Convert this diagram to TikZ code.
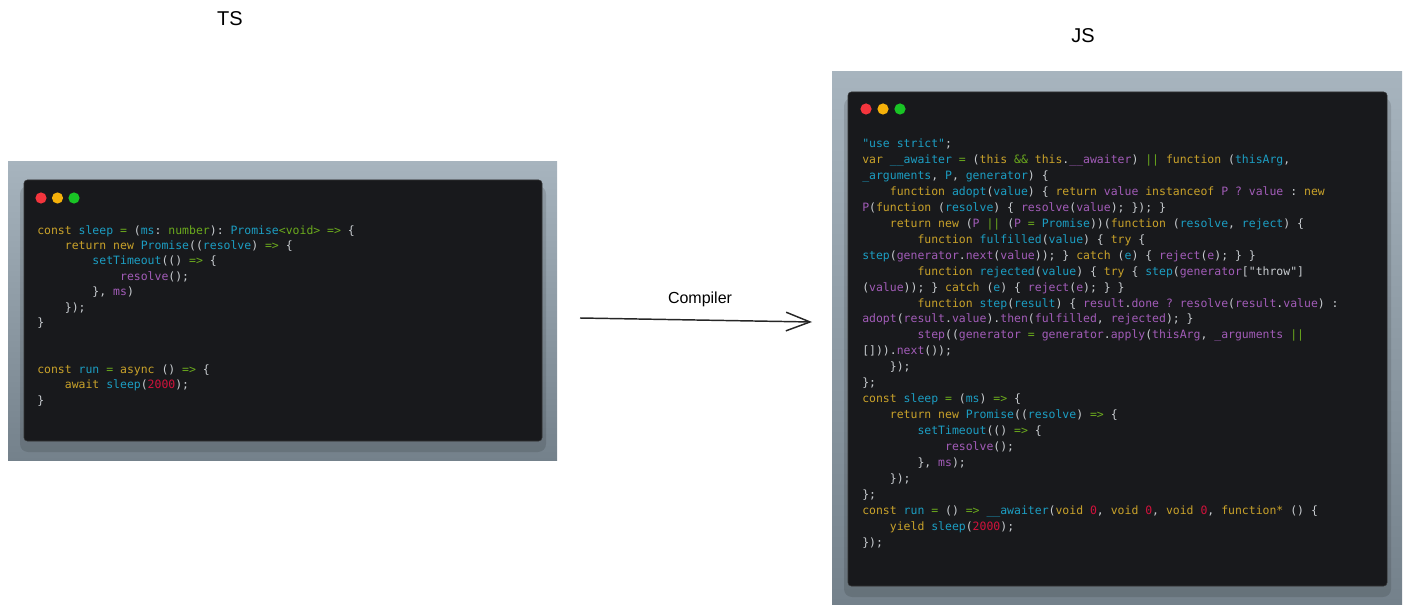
\documentclass[tikz,border=0pt]{standalone}
\usepackage{fontspec}
\setmainfont{Liberation Sans}
\setmonofont{DejaVu Sans Mono}
\usetikzlibrary{arrows.meta}

\definecolor{frametop}{HTML}{A7B4BE}
\definecolor{framebot}{HTML}{74818B}
\definecolor{winbg}{HTML}{18191C}
\definecolor{codefg}{HTML}{C9CDD1}
\definecolor{kwcol}{HTML}{C9A22A}
\definecolor{nmcol}{HTML}{1C9EC3}
\definecolor{pucol}{HTML}{A25CB8}
\definecolor{grcol}{HTML}{6BAA1C}
\definecolor{rdcol}{HTML}{D2123C}
\definecolor{dotred}{HTML}{F4353D}
\definecolor{dotyel}{HTML}{F5B10A}
\definecolor{dotgrn}{HTML}{19C425}

\newcommand\kw[1]{\textcolor{kwcol}{#1}}
\newcommand\nm[1]{\textcolor{nmcol}{#1}}
\newcommand\pu[1]{\textcolor{pucol}{#1}}
\newcommand\gr[1]{\textcolor{grcol}{#1}}
\newcommand\rd[1]{\textcolor{rdcol}{#1}}
\newcommand\ind[1]{\hspace*{#1\fontcharwd\font`0}}

\begin{document}
\begin{tikzpicture}[x=0.75pt, y=-0.75pt,
	sketch/.style={font=\fontsize{15}{18}\selectfont},
	code/.style={anchor=north west, inner sep=0pt, align=left, text=codefg},
	frame/.style={top color=frametop, bottom color=framebot},
	window/.style={fill=winbg, draw=black!80, line width=0.4pt, rounded corners=2.5pt}]
	\useasboundingbox (0,0) rectangle (1410,613);
	% TS side
	\shade[frame] (8,162) rectangle (557,460);
	\fill[black, opacity=0.12, rounded corners=6pt] (20,186) rectangle (546,452);
	\path[window] (24,180) rectangle (542,441);
	\fill[dotred] (41,198) circle (4.2pt);
	\fill[dotyel] (57.5,198) circle (4.2pt);
	\fill[dotgrn] (74,198) circle (4.2pt);
	\node[code, font=\ttfamily\fontsize{8.6}{11.6}\selectfont] (tsCode) at (37,225) {%
\kw{const} \nm{sleep} \gr{=} (\nm{ms}: \gr{number}): \nm{Promise}\gr{<void>} \gr{=>} \{\\
\ind{4}\kw{return new} \nm{Promise}((\nm{resolve}) \gr{=>} \{\\
\ind{8}\nm{setTimeout}(() \gr{=>} \{\\
\ind{12}\pu{resolve}();\\
\ind{8}\}, \pu{ms})\\
\ind{4}\});\\
\}\\
\mbox{}\\
\mbox{}\\
\kw{const} \nm{run} \gr{=} \kw{async} () \gr{=>} \{\\
\ind{4}\kw{await} \nm{sleep}(\rd{2000});\\
\}};
	\node[sketch] (tsLabel) at (230,19) {TS};
	% JS side
	\shade[frame] (832,72) rectangle (1402,604);
	\fill[black, opacity=0.12, rounded corners=6pt] (844,98) rectangle (1391,597);
	\path[window] (848,92) rectangle (1387,586);
	\fill[dotred] (866,109) circle (4.2pt);
	\fill[dotyel] (883,109) circle (4.2pt);
	\fill[dotgrn] (900,109) circle (4.2pt);
	\node[code, font=\ttfamily\fontsize{8.6}{11.95}\selectfont] (jsCode) at (862,138.7) {%
\nm{"use strict"};\\
\kw{var} \nm{\_\_awaiter} \gr{=} (\kw{this} \gr{\&\&} \kw{this}.\pu{\_\_awaiter}) \gr{||} \kw{function} (\nm{thisArg},\\
\nm{\_arguments}, \nm{P}, \nm{generator}) \{\\
\ind{4}\kw{function} \nm{adopt}(\nm{value}) \{ \kw{return} \pu{value} \kw{instanceof} \pu{P} \pu{?} \pu{value} : \kw{new}\\
\pu{P}(\kw{function} (\nm{resolve}) \{ \pu{resolve}(\pu{value}); \}); \}\\
\ind{4}\kw{return new} (\pu{P} \gr{||} (\pu{P} \gr{=} \nm{Promise}))(\kw{function} (\nm{resolve}, \nm{reject}) \{\\
\ind{8}\kw{function} \nm{fulfilled}(\nm{value}) \{ \kw{try} \{\\
\nm{step}(\pu{generator}.\pu{next}(\pu{value})); \} \kw{catch} (\nm{e}) \{ \pu{reject}(\pu{e}); \} \}\\
\ind{8}\kw{function} \nm{rejected}(\nm{value}) \{ \kw{try} \{ \nm{step}(\pu{generator}{[}"throw"]\\
(\pu{value})); \} \kw{catch} (\nm{e}) \{ \pu{reject}(\pu{e}); \} \}\\
\ind{8}\kw{function} \nm{step}(\nm{result}) \{ \pu{result}.\pu{done} \pu{?} \pu{resolve}(\pu{result}.\pu{value}) :\\
\pu{adopt}(\pu{result}.\pu{value}).\pu{then}(\pu{fulfilled}, \pu{rejected}); \}\\
\ind{8}\pu{step}((\pu{generator} \gr{=} \pu{generator}.\pu{apply}(\pu{thisArg}, \pu{\_arguments} \gr{||}\\
{[}])).\pu{next}());\\
\ind{4}\});\\
\};\\
\kw{const} \nm{sleep} \gr{=} (\nm{ms}) \gr{=>} \{\\
\ind{4}\kw{return new} \nm{Promise}((\nm{resolve}) \gr{=>} \{\\
\ind{8}\nm{setTimeout}(() \gr{=>} \{\\
\ind{12}\pu{resolve}();\\
\ind{8}\}, \pu{ms});\\
\ind{4}\});\\
\};\\
\kw{const} \nm{run} \gr{=} () \gr{=>} \nm{\_\_awaiter}(\kw{void} \rd{0}, \kw{void} \rd{0}, \kw{void} \rd{0}, \kw{function*} () \{\\
\ind{4}\kw{yield} \nm{sleep}(\rd{2000});\\
\});};
	\node[sketch] (jsLabel) at (1083,36) {JS};
	% compiler arrow
	\coordinate (arrowTail) at (580,318);
	\coordinate (arrowHead) at (812,322);
	\draw[-{Straight Barb[length=18pt,width=14pt]}, line width=1.1pt, black!85] (arrowTail) -- (arrowHead);
	\node[font=\fontsize{12}{14}\selectfont] (compilerLabel) at (700,299) {Compiler};
\end{tikzpicture}
\end{document}
